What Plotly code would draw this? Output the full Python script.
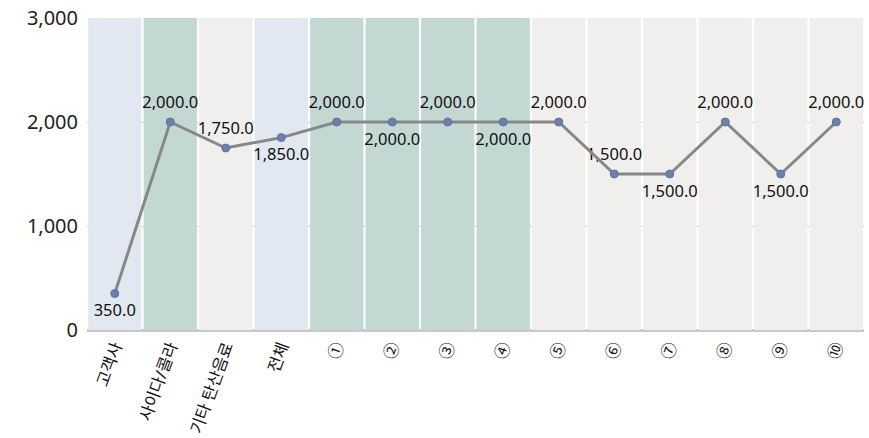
import plotly.graph_objects as go

categories = ["고객사", "사이다/콜라", "기타 탄산음료", "전체", "①", "②", "③", "④", "⑤", "⑥", "⑦", "⑧", "⑨", "⑩"]
values = [350, 2000, 1750, 1850, 2000, 2000, 2000, 2000, 2000, 1500, 1500, 2000, 1500, 2000]
bg_heights = [3000] * 14
bg_colors = ["#E1E8F1", "#C4D8D3", "#F0EFEE", "#E1E8F1", "#C4D8D3", "#C4D8D3", "#C4D8D3", "#C4D8D3",
             "#F0EFEE", "#F0EFEE", "#F0EFEE", "#F0EFEE", "#F0EFEE", "#F0EFEE"]
label_pos = ["bottom center", "top center", "top center", "bottom center", "top center", "bottom center",
             "top center", "bottom center", "top center", "top center", "bottom center", "top center",
             "bottom center", "top center"]

font = "Noto Sans, Noto Sans CJK KR, sans-serif"

fig = go.Figure()
fig.add_trace(go.Bar(x=categories, y=bg_heights, marker=dict(color=bg_colors, line=dict(width=0)),
                     hoverinfo="skip", showlegend=False))
# text labels (transparent larger markers give extra label offset)
fig.add_trace(go.Scatter(x=categories, y=values, mode="markers+text",
                         marker=dict(color="rgba(0,0,0,0)", size=15),
                         texttemplate="%{y:,.1f}", textposition=label_pos,
                         textfont=dict(size=16.5, color="#111111", family=font),
                         hoverinfo="skip", showlegend=False))
fig.add_trace(go.Scatter(x=categories, y=values, mode="lines+markers",
                         line=dict(color="#878787", width=3),
                         marker=dict(color="#6C80A8", size=8, line=dict(color="#5A73A8", width=1)),
                         showlegend=False))

fig.update_layout(
    width=869, height=438,
    margin=dict(l=87, r=5, t=18, b=108),
    plot_bgcolor="white", paper_bgcolor="white",
    bargap=0.04,
    font=dict(family=font, color="#222222"),
)
fig.update_yaxes(range=[0, 3000], tickvals=[0, 1000, 2000, 3000], tickformat=",",
                 showgrid=True, gridcolor="#D0D0D0", gridwidth=1,
                 zeroline=True, zerolinecolor="#C8C8C8", zerolinewidth=3,
                 tickfont=dict(size=20, color="#222222"), ticks="", ticklabelstandoff=8,
                 layer="above traces", automargin=False)
fig.update_xaxes(tickangle=-70, tickfont=dict(size=16.5, color="#111111"), showgrid=False,
                 ticks="", ticklabelstandoff=3, automargin=False, range=[-0.5, 13.5])

fig.write_html("out.html")
